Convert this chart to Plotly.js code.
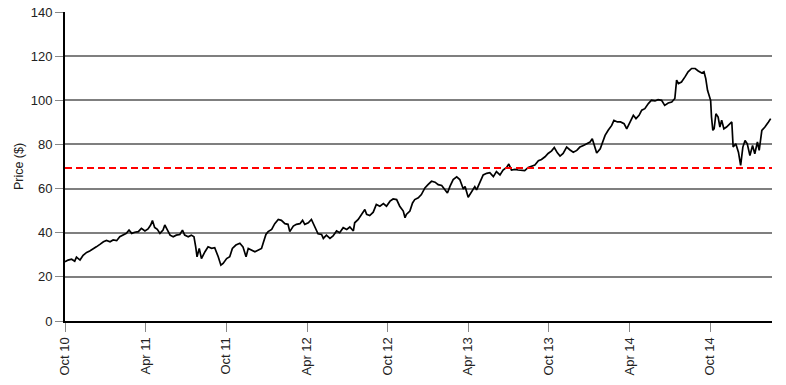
<!DOCTYPE html>
<html>
<head>
<meta charset="utf-8">
<script src="https://cdn.plot.ly/plotly-3.0.1.min.js"></script>
<style>
  html, body { margin: 0; padding: 0; background: #ffffff; }
  #chart { width: 786px; height: 385px; }
</style>
</head>
<body>
<div id="chart"></div>
<script>
const dates = [
  "2010-10-01","2010-10-08","2010-10-16","2010-10-23","2010-10-27","2010-11-04","2010-11-11","2010-11-19","2010-11-26","2010-12-04",
  "2010-12-11","2010-12-19","2010-12-27","2011-01-03","2011-01-11","2011-01-18","2011-01-26","2011-02-02","2011-02-10","2011-02-17",
  "2011-02-23","2011-03-01","2011-03-08","2011-03-16","2011-03-23","2011-03-31","2011-04-07","2011-04-13","2011-04-17","2011-04-22",
  "2011-04-28","2011-05-04","2011-05-11","2011-05-15","2011-05-19","2011-05-27","2011-06-03","2011-06-10","2011-06-18","2011-06-24",
  "2011-06-29","2011-07-07","2011-07-14","2011-07-20","2011-07-24","2011-07-27","2011-08-01","2011-08-06","2011-08-14","2011-08-21",
  "2011-08-29","2011-09-05","2011-09-13","2011-09-19","2011-09-24","2011-10-02","2011-10-09","2011-10-15","2011-10-23","2011-11-01",
  "2011-11-08","2011-11-15","2011-11-20","2011-11-27","2011-12-05","2011-12-12","2011-12-20","2011-12-24","2011-12-30","2012-01-04",
  "2012-01-12","2012-01-19","2012-01-27","2012-02-03","2012-02-11","2012-02-18","2012-02-22","2012-03-01","2012-03-08","2012-03-16",
  "2012-03-22","2012-03-27","2012-04-04","2012-04-11","2012-04-19","2012-04-26","2012-05-04","2012-05-08","2012-05-15","2012-05-23",
  "2012-05-30","2012-06-07","2012-06-14","2012-06-22","2012-06-30","2012-07-07","2012-07-15","2012-07-18","2012-07-26","2012-08-02",
  "2012-08-10","2012-08-14","2012-08-21","2012-08-29","2012-09-05","2012-09-13","2012-09-21","2012-09-28","2012-10-06","2012-10-13",
  "2012-10-21","2012-10-28","2012-11-05","2012-11-09","2012-11-12","2012-11-20","2012-11-26","2012-12-01","2012-12-09","2012-12-16",
  "2012-12-24","2012-12-31","2013-01-08","2013-01-16","2013-01-23","2013-01-31","2013-02-07","2013-02-13","2013-02-19","2013-02-26",
  "2013-03-06","2013-03-13","2013-03-21","2013-03-25","2013-04-01","2013-04-09","2013-04-16","2013-04-20","2013-04-28","2013-05-05",
  "2013-05-13","2013-05-20","2013-05-28","2013-06-04","2013-06-12","2013-06-19","2013-06-27","2013-07-02","2013-07-08","2013-07-16",
  "2013-07-23","2013-07-31","2013-08-07","2013-08-15","2013-08-23","2013-08-30","2013-09-07","2013-09-14","2013-09-22","2013-09-29",
  "2013-10-07","2013-10-13","2013-10-20","2013-10-26","2013-11-02","2013-11-10","2013-11-17","2013-11-25","2013-12-03","2013-12-10",
  "2013-12-18","2013-12-25","2014-01-02","2014-01-07","2014-01-12","2014-01-17","2014-01-25","2014-01-31","2014-02-05","2014-02-12",
  "2014-02-20","2014-02-25","2014-03-05","2014-03-12","2014-03-20","2014-03-26","2014-04-02","2014-04-10","2014-04-16","2014-04-23",
  "2014-04-29","2014-05-06","2014-05-14","2014-05-21","2014-05-29","2014-06-05","2014-06-13","2014-06-20","2014-06-28","2014-07-06",
  "2014-07-13","2014-07-17","2014-07-21","2014-07-28","2014-08-05","2014-08-12","2014-08-20","2014-08-28","2014-09-04","2014-09-12",
  "2014-09-17","2014-09-21","2014-09-25","2014-09-29","2014-10-02","2014-10-04","2014-10-07","2014-10-10","2014-10-14","2014-10-19",
  "2014-10-23","2014-10-27","2014-11-01","2014-11-07","2014-11-15","2014-11-19","2014-11-22","2014-11-28","2014-12-04","2014-12-09",
  "2014-12-14","2014-12-19","2014-12-24","2014-12-30","2015-01-05","2015-01-10","2015-01-16","2015-01-20","2015-01-26","2015-02-02",
  "2015-02-10","2015-02-15"
];

// Prices in dollars
const prices = [
  26.8,27.6,28.0,27.1,28.9,27.6,29.8,31.1,31.7,32.6,
  33.6,34.7,35.9,36.5,35.9,36.7,36.4,38.2,38.9,39.7,
  41.2,39.7,40.2,40.5,42.0,40.8,41.7,43.5,45.5,42.4,
  41.5,39.7,41.2,43.5,42.0,38.9,38.2,38.9,39.2,41.2,
  38.9,38.2,38.9,38.2,33.6,29.1,32.9,28.3,31.4,33.6,
  32.9,33.2,29.1,25.3,26.1,28.3,29.1,32.9,34.4,35.2,
  33.6,29.1,32.9,32.1,31.4,32.1,32.9,35.5,39.2,40.5,
  41.5,44.1,46.0,45.6,44.1,43.8,40.5,43.0,43.8,44.1,
  45.6,43.8,44.5,46.0,42.3,39.5,39.2,37.4,38.9,37.4,
  38.5,40.8,40.0,42.3,41.5,42.6,40.8,44.5,46.0,48.3,
  50.5,48.3,47.8,49.3,52.8,52.0,53.2,52.0,54.3,55.3,
  55.0,52.0,49.8,46.8,48.3,49.8,53.5,55.0,55.8,57.3,
  60.3,61.8,63.3,62.9,61.8,61.4,59.8,58.0,61.1,64.1,
  65.3,64.1,59.8,60.9,56.1,58.6,60.9,59.4,63.2,66.2,
  66.9,67.2,65.4,67.7,66.2,68.4,69.6,71.1,68.4,68.7,
  68.4,68.4,68.1,69.6,70.2,70.7,72.6,73.2,74.4,75.9,
  77.1,78.6,76.2,74.7,75.9,78.8,77.6,76.5,77.3,78.8,
  79.5,80.3,81.1,82.6,79.5,76.1,78.0,81.1,84.1,86.4,
  88.6,90.9,90.2,90.2,89.4,87.1,90.2,93.2,91.7,93.2,
  95.5,96.2,98.5,100.0,99.7,100.3,100.0,97.7,98.8,99.2,
  100.8,109.1,107.6,108.3,110.6,112.9,114.4,114.4,113.3,112.4,
  112.9,109.8,104.5,102.3,100.0,92.4,86.4,87.1,93.9,92.4,
  87.9,91.0,87.1,87.9,89.4,90.2,78.8,80.3,76.5,70.5,
  78.8,81.8,80.3,75.0,79.5,75.8,81.1,77.3,86.4,87.9,
  90.2,91.7
];

// Horizontal reference price (red dashed line)
const referencePrice = 69.3;

// Axis settings
const xRange = ["2010-10-01", "2015-02-18"];
const xTickStart = "2010-10-01";
const yTickValues = [0, 20, 40, 60, 80, 100, 120, 140];

const trace = {
  type: "scatter",
  mode: "lines",
  x: dates,
  y: prices,
  line: { color: "#000000", width: 1.7 },
  hoverinfo: "x+y",
  showlegend: false
};

const layout = {
  width: 786,
  height: 385,
  margin: { l: 65, r: 14, t: 12, b: 64 },
  paper_bgcolor: "#ffffff",
  plot_bgcolor: "#ffffff",
  font: { family: "Liberation Sans, Arial, sans-serif", color: "#222222", size: 13 },
  showlegend: false,
  xaxis: {
    type: "date",
    range: xRange,
    tick0: xTickStart,
    dtick: "M6",
    tickformat: "%b %y",
    tickangle: -90,
    ticks: "outside",
    ticklen: 9,
    tickwidth: 1,
    tickcolor: "#888888",
    tickfont: { size: 13, color: "#222222" },
    showgrid: false,
    zeroline: false,
    showline: true,
    linecolor: "#000000",
    linewidth: 2,
    fixedrange: true
  },
  yaxis: {
    range: [0, 140],
    tickvals: yTickValues,
    ticks: "outside",
    ticklen: 8,
    tickwidth: 1,
    tickcolor: "#888888",
    tickfont: { size: 13, color: "#222222" },
    showgrid: true,
    gridcolor: "#7f7f7f",
    gridwidth: 2,
    zeroline: false,
    showline: true,
    linecolor: "#000000",
    linewidth: 2,
    title: { text: "Price ($)", font: { size: 12.5, color: "#222222" }, standoff: 4 },
    fixedrange: true
  },
  shapes: [
    {
      type: "line",
      xref: "paper",
      yref: "y",
      x0: 0,
      x1: 1,
      y0: referencePrice,
      y1: referencePrice,
      line: { color: "#ff0000", width: 2, dash: "7px,4px" }
    }
  ]
};

Plotly.newPlot("chart", [trace], layout, { displayModeBar: false, staticPlot: true });
</script>
</body>
</html>
